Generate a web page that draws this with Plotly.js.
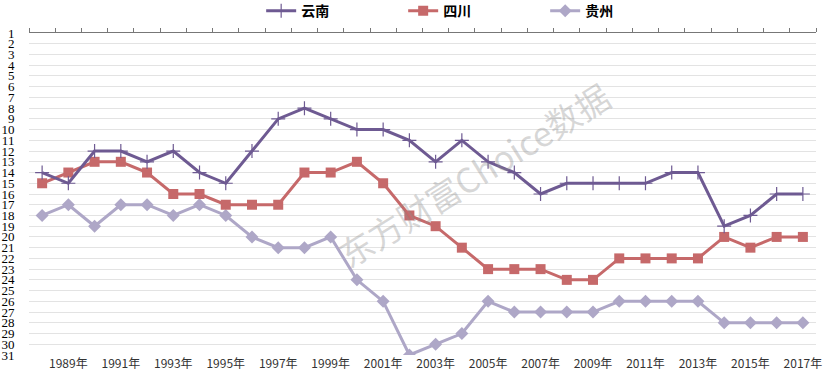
<!DOCTYPE html>
<html>
<head>
<meta charset="utf-8">
<script src="https://cdn.plot.ly/plotly-3.0.1.min.js"></script>
<style>html,body{margin:0;padding:0;background:#fff;}#chart{width:834px;height:386px;}</style>
</head>
<body>
<div id="chart"></div>
<script>
var years = [1988,1989,1990,1991,1992,1993,1994,1995,1996,1997,1998,1999,2000,2001,2002,2003,2004,2005,2006,2007,2008,2009,2010,2011,2012,2013,2014,2015,2016,2017];
var yunnan = [14,15,12,12,13,12,14,15,12,9,8,9,10,10,11,13,11,13,14,16,15,15,15,15,14,14,19,18,16,16];
var sichuan = [15,14,13,13,14,16,16,17,17,17,14,14,13,15,18,19,21,23,23,23,24,24,22,22,22,22,20,21,20,20];
var guizhou = [18,17,19,17,17,18,17,18,20,21,21,20,24,26,31,30,29,26,27,27,27,27,26,26,26,26,28,28,28,28];
var seriesNames = ['云南','四川','贵州'];
var xLabelYears = years.filter(function(y){return y % 2 === 1;});
var xLabelText = xLabelYears.map(function(y){return y + '年';});
var rankTicks = [];
for (var r = 1; r <= 31; r++) rankTicks.push(r);
var boundaries = years.map(function(y){return y - 0.5;}).concat([years[years.length-1] + 0.5]);

var traces = [
  {x: years, y: guizhou, name: seriesNames[2], type: 'scatter', mode: 'lines+markers',
   line: {color: '#aea7c7', width: 3}, marker: {symbol: 'diamond', size: 10, color: '#aea7c7'}},
  {x: years, y: sichuan, name: seriesNames[1], type: 'scatter', mode: 'lines+markers',
   line: {color: '#c6696a', width: 3}, marker: {symbol: 'square', size: 10, color: '#c6696a'}},
  {x: years, y: yunnan, name: seriesNames[0], type: 'scatter', mode: 'lines+markers',
   line: {color: '#6e5a92', width: 3}, marker: {symbol: 'cross-thin', size: 10, color: '#6e5a92', line: {color: '#6e5a92', width: 1.2}}},
  {x: [], y: [], xaxis: 'x2', showlegend: false, hoverinfo: 'skip', type: 'scatter'}
];

var layout = {
  width: 834, height: 386,
  margin: {l: 29, r: 18, t: 33, b: 31, autoexpand: false},
  paper_bgcolor: '#fff', plot_bgcolor: '#fff',
  showlegend: true,
  legend: {orientation: 'h', traceorder: 'reversed', x: 0.295, xanchor: 'left', y: 1.068, yanchor: 'middle',
           entrywidth: 97, entrywidthmode: 'pixels', itemwidth: 30,
           font: {family: 'Noto Sans CJK SC', size: 14, color: '#000', weight: 'bold'}},
  xaxis: {range: [1987.5, 2017.5], tickmode: 'array', tickvals: xLabelYears, ticktext: xLabelText,
          showgrid: false, zeroline: false, showline: false, ticks: '',
          tickfont: {family: 'Noto Sans CJK SC', size: 12, color: '#333'}},
  xaxis2: {overlaying: 'x', side: 'top', anchor: 'y', range: [1987.5, 2017.5], tickmode: 'array', tickvals: boundaries,
           showticklabels: false, ticks: 'outside', ticklen: 4, tickcolor: '#777', tickwidth: 1,
           showline: true, linecolor: '#777', linewidth: 1, showgrid: false, zeroline: false},
  yaxis: {range: [31, 1], tickmode: 'array', tickvals: rankTicks, showgrid: true, gridcolor: '#e3e3e3', gridwidth: 1,
          zeroline: false, showline: false, ticks: 'outside', ticklen: 11, tickcolor: 'rgba(0,0,0,0)',
          tickfont: {family: 'Liberation Sans Narrow', size: 13, color: '#000'}},
  annotations: [{text: '东方财富Choice数据', xref: 'paper', yref: 'paper', x: 0.565, y: 0.56, showarrow: false,
                 textangle: -32, font: {family: 'Noto Sans CJK SC', size: 34, color: 'rgba(140,140,140,0.35)'}}]
};

Plotly.newPlot('chart', traces, layout, {displayModeBar: false, staticPlot: true});
</script>
</body>
</html>
